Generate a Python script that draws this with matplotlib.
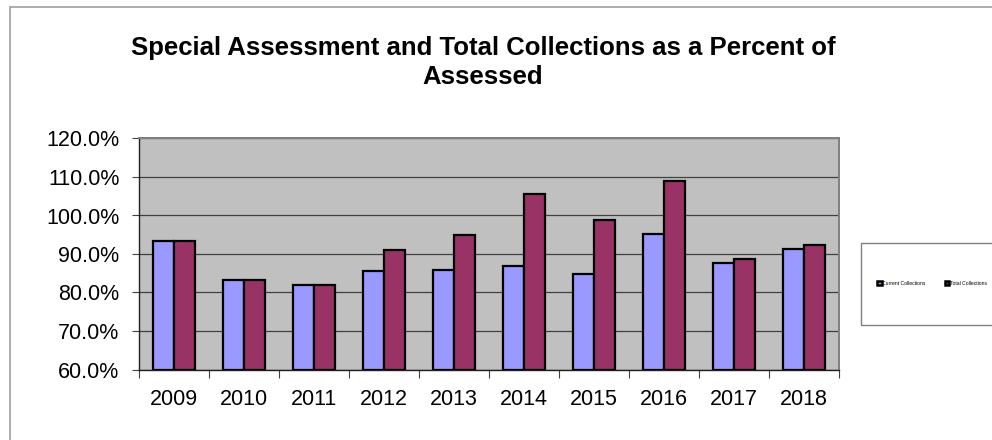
import matplotlib
matplotlib.use("Agg")
import matplotlib.pyplot as plt
from matplotlib.patches import Rectangle, Patch
from matplotlib.ticker import FuncFormatter, MultipleLocator
import numpy as np

years = ["2009", "2010", "2011", "2012", "2013", "2014", "2015", "2016", "2017", "2018"]
current_collections = [93.3, 83.3, 82.0, 85.6, 85.8, 86.8, 84.9, 95.1, 87.7, 91.4]
total_collections = [93.3, 83.3, 82.0, 91.1, 94.9, 105.7, 98.8, 108.9, 88.8, 92.3]
series_names = ["Current Collections", "Total Collections"]
series_colors = ["#9999FF", "#993366"]

plt.rcParams['font.family'] = ['Liberation Sans', 'DejaVu Sans']

W, H = 992, 440
fig = plt.figure(figsize=(W / 100, H / 100), dpi=100)
fig.patch.set_facecolor("white")

# outer chart border
fig.add_artist(Rectangle((10 / W, -0.1), 1.2, 1 - 7 / H + 0.1, transform=fig.transFigure,
                         fill=False, edgecolor="#A0A0A0", linewidth=1.2))

left, right, top, bottom = 139, 839, 138.5, 369.5
ax = fig.add_axes([left / W, 1 - bottom / H, (right - left) / W, (bottom - top) / H])
ax.set_facecolor("#C0C0C0")

x = np.arange(len(years))
bw = 0.293
ax.bar(x - bw / 2, [v - 60 for v in current_collections], bw, bottom=60,
       color=series_colors[0], edgecolor="black", linewidth=1.6, zorder=3)
ax.bar(x + bw / 2, [v - 60 for v in total_collections], bw, bottom=60,
       color=series_colors[1], edgecolor="black", linewidth=1.6, zorder=3)

ax.set_xlim(-0.5, len(years) - 0.5)
ax.set_ylim(60, 120)
ax.yaxis.set_major_locator(MultipleLocator(10))
ax.yaxis.set_major_formatter(FuncFormatter(lambda v, p: f"{v:.1f}%"))
ax.set_xticks(x)
ax.set_xticklabels(years)
ax.set_xticks(np.arange(len(years) + 1) - 0.5, minor=True)
ax.tick_params(axis="x", which="major", length=0, labelsize=15.5, pad=14)
ax.tick_params(axis="x", which="minor", length=6, width=0.8, color="#404040")
ax.tick_params(axis="y", length=5, width=0.8, color="#404040", labelsize=15.5, pad=9)
ax.grid(axis="y", color="#404040", linewidth=0.9, zorder=1)
ax.set_axisbelow(True)

for s in ["left", "bottom"]:
    ax.spines[s].set_color("#202020")
    ax.spines[s].set_linewidth(1.0)
for s in ["top", "right"]:
    ax.spines[s].set_color("#808080")
    ax.spines[s].set_linewidth(1.4)

fig.text(483 / W, 1 - 48 / H, "Special Assessment and Total Collections as a Percent of",
         ha="center", va="center", fontsize=18.5, fontweight="bold")
fig.text(483 / W, 1 - 77 / H, "Assessed",
         ha="center", va="center", fontsize=18.5, fontweight="bold")

# legend box
fig.add_artist(Rectangle((860.7 / W, 1 - 325 / H), 0.5, (325 - 243.3) / H,
                         transform=fig.transFigure, fill=False,
                         edgecolor="#808080", linewidth=1.0))
handles = [Patch(facecolor=c, edgecolor="black", linewidth=1.8) for c in series_colors]
fig.legend(handles, series_names, loc="center", bbox_to_anchor=(932 / W, 1 - 283.5 / H),
           ncol=2, frameon=False, fontsize=3.6, handlelength=0.9, handleheight=0.9,
           handletextpad=0.15, columnspacing=3.8, borderpad=0.2)

fig.savefig("out.png", dpi=100)
